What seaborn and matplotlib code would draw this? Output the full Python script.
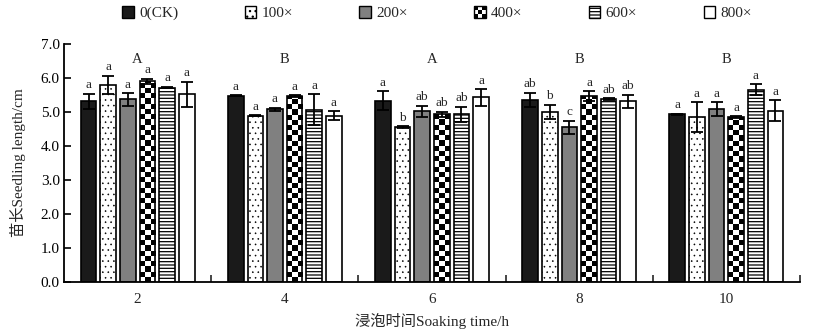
import numpy as np
import pandas as pd
import matplotlib
matplotlib.use("Agg")
import matplotlib.pyplot as plt
from matplotlib.patches import Rectangle, Patch
from matplotlib.legend_handler import HandlerBase
import seaborn as sns

# Soaking time groups and treatment concentrations
times = ["2", "4", "6", "8", "10"]
treatments = ["0(CK)", "100×", "200×", "400×", "600×", "800×"]

# Mean seedling length (cm), one list per treatment, ordered by soaking time
ck_mean = [5.32, 5.48, 5.33, 5.36, 4.93]
t100_mean = [5.80, 4.89, 4.56, 5.00, 4.85]
t200_mean = [5.37, 5.08, 5.02, 4.55, 5.08]
t400_mean = [5.90, 5.47, 4.93, 5.47, 4.85]
t600_mean = [5.72, 5.07, 4.93, 5.38, 5.66]
t800_mean = [5.52, 4.89, 5.43, 5.31, 5.04]

# Standard errors
ck_err = [0.22, 0.02, 0.28, 0.21, 0.02]
t100_err = [0.27, 0.02, 0.02, 0.22, 0.43]
t200_err = [0.18, 0.05, 0.16, 0.20, 0.21]
t400_err = [0.08, 0.02, 0.08, 0.15, 0.02]
t600_err = [0.02, 0.46, 0.23, 0.03, 0.15]
t800_err = [0.37, 0.13, 0.25, 0.20, 0.30]

# Significance letters within each soaking time
ck_sig = ["a", "a", "a", "ab", "a"]
t100_sig = ["a", "a", "b", "b", "a"]
t200_sig = ["a", "a", "ab", "c", "a"]
t400_sig = ["a", "a", "ab", "a", "a"]
t600_sig = ["a", "a", "ab", "ab", "a"]
t800_sig = ["a", "a", "a", "ab", "a"]

# Significance letters between soaking times
group_sig = ["A", "B", "A", "B", "B"]

means = [ck_mean, t100_mean, t200_mean, t400_mean, t600_mean, t800_mean]
errs = [ck_err, t100_err, t200_err, t400_err, t600_err, t800_err]
sigs = [ck_sig, t100_sig, t200_sig, t400_sig, t600_sig, t800_sig]

rows = []
for tr, m in zip(treatments, means):
    for t, v in zip(times, m):
        rows.append({"time": t, "treatment": tr, "length": v})
df = pd.DataFrame(rows)

sns.set_style("ticks")
plt.rcParams["font.family"] = ["Liberation Serif", "Noto Sans CJK SC"]
plt.rcParams["hatch.linewidth"] = 0.9
plt.rcParams["hatch.color"] = "black"

W, H = 814, 331
fig = plt.figure(figsize=(W / 100, H / 100), dpi=100)
ax = fig.add_axes([64 / W, 49 / H, (800 - 64) / W, (282 - 44) / H])

faces = ["#1a1a1a", "white", "#808080", "white", "white", "white"]
hatches = [None, "...", None, None, "-----", None]
hatch_lw = [0.9, 0.4, 0.9, 0.9, 0.9, 0.9]

sns.barplot(data=df, x="time", y="length", hue="treatment",
            order=times, hue_order=treatments, palette=faces,
            width=0.8, gap=0.2, errorbar=None, edgecolor="black",
            linewidth=1.2, legend=False, ax=ax, saturation=1)

ax.set_xlim(-0.5, 4.5)
ax.set_ylim(0, 7.0)

# px per data unit, for square checker cells
p0 = ax.transData.transform((0, 0))
p1 = ax.transData.transform((1, 1))
px_x = p1[0] - p0[0]
px_y = p1[1] - p0[1]


def style_patch(p, i):
    p.set_facecolor(faces[i])
    p.set_edgecolor("black")
    if hatches[i]:
        p.set_hatch(hatches[i])
        if hasattr(p, "set_hatch_linewidth"):
            p.set_hatch_linewidth(hatch_lw[i])


bar_containers = list(ax.containers)
for i, cont in enumerate(bar_containers):
    for j, bar in enumerate(cont.patches):
        style_patch(bar, i)
        if i == 3:
            bar.set_facecolor("none")
            x0, w, h = bar.get_x(), bar.get_width(), bar.get_height()
            ncol = 3
            cell_px = w * px_x / ncol
            nrow = int(np.ceil(h * px_y / cell_px))
            board = (np.add.outer(np.arange(nrow), np.arange(ncol)) % 2).astype(float)
            top = nrow * cell_px / px_y
            im = ax.imshow(board, cmap="gray_r", vmin=0, vmax=1,
                           extent=(x0, x0 + w, 0, top), origin="lower",
                           aspect="auto", interpolation="nearest",
                           zorder=bar.get_zorder() - 0.1)
            im.set_clip_path(bar)
        # error bar and letter from the same values
        xc = bar.get_x() + bar.get_width() / 2
        m = means[i][j]
        e = errs[i][j]
        ax.errorbar(xc, m, yerr=e, fmt="none", ecolor="black",
                    elinewidth=1.3, capsize=4.6, capthick=1.3, zorder=5)
        ax.text(xc, m + e + 0.07, sigs[i][j], ha="center", va="bottom",
                fontsize=9.5, zorder=6)

ax.set_xlim(-0.5, 4.5)
ax.set_ylim(0, 7.0)

for k, g in enumerate(group_sig):
    ax.text(k, 6.53, g, ha="center", va="center", fontsize=10.5)

sns.despine(ax=ax)
for s in ["left", "bottom"]:
    ax.spines[s].set_linewidth(1.3)
    ax.spines[s].set_color("black")

ax.set_yticks(np.arange(0, 7.01, 1.0))
ax.set_yticklabels([f"{v:.1f}" for v in np.arange(0, 7.01, 1.0)])
ax.tick_params(axis="y", direction="in", length=5, width=1.2,
               labelsize=11, pad=3, colors="black")
ax.set_xticks(range(len(times)))
ax.set_xticklabels(times)
ax.tick_params(axis="x", which="major", length=0, labelsize=11, pad=8)
ax.set_xticks(np.arange(0.5, 4.6, 1.0), minor=True)
ax.tick_params(axis="x", which="minor", direction="in", length=5, width=1.2)

ax.set_xlabel("浸泡时间Soaking time/h", fontsize=11, labelpad=5)
ax.set_ylabel("苗长Seedling length/cm", fontsize=11, labelpad=11)


class CheckerHandler(HandlerBase):
    def create_artists(self, legend, orig_handle, xdescent, ydescent,
                       width, height, fontsize, trans):
        arts = []
        n = 3
        cw, ch = width / n, height / n
        for r in range(n):
            for c in range(n):
                fc = "black" if (r + c) % 2 == 0 else "white"
                arts.append(Rectangle((-xdescent + c * cw, -ydescent + r * ch),
                                      cw, ch, facecolor=fc, edgecolor="none",
                                      transform=trans))
        arts.append(Rectangle((-xdescent, -ydescent), width, height,
                              facecolor="none", edgecolor="black", lw=1.0,
                              transform=trans))
        return arts


class CheckerPatch(Patch):
    pass


handles = []
for i, tr in enumerate(treatments):
    if i == 3:
        handles.append(CheckerPatch(label=tr))
    else:
        hp = Patch(label=tr, lw=1.0)
        style_patch(hp, i)
        handles.append(hp)

fig.legend(handles=handles, labels=treatments, loc="center",
           bbox_to_anchor=(0.537, 1 - 13 / H), ncol=6, frameon=False,
           fontsize=11, handlelength=0.75, handleheight=0.8,
           handletextpad=0.35, columnspacing=4.35,
           handler_map={CheckerPatch: CheckerHandler()})

fig.savefig("out.png", dpi=100)
